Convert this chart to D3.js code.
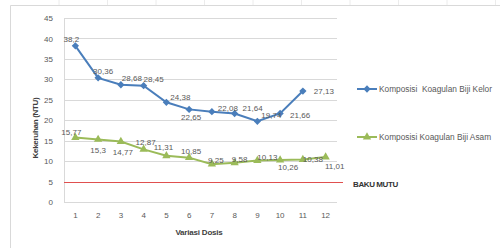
<!DOCTYPE html>
<html><head><meta charset="utf-8">
<script src="https://cdn.jsdelivr.net/npm/d3@7"></script>
<style>body{margin:0;background:#fff;}svg{display:block;font-family:"Liberation Sans",Arial,sans-serif;}</style>
</head><body>
<script>
const categories = ["1","2","3","4","5","6","7","8","9","10","11","12"];
const kelorName = "Komposisi  Koagulan Biji Kelor";
const asamName = "Komposisi Koagulan Biji Asam";
const kelorValues = [38.2, 30.36, 28.68, 28.45, 24.38, 22.65, 22.08, 21.64, 19.74, 21.66, 27.13];
const asamValues = [15.77, 15.3, 14.77, 12.87, 11.31, 10.85, 9.25, 9.58, 10.13, 10.26, 10.38, 11.01];
const bakuMutu = 5;
const yTicks = [0,5,10,15,20,25,30,35,40,45];
// label offsets (px) relative to marker
const kelorLabelOff = [[-4,-6],[5,-6],[11,-6],[10,-6],[14,-5],[2,8],[16,-3],[18,-5],[14,-6],[20,2],[21,0]];
const asamLabelOff = [[-4,-5],[0,11],[2,11],[2,-7],[-3,-8],[2,-6],[4,-4],[5,-3],[10,-3],[8,7],[10,0],[9,10]];

const W=500,H=248;
const FONT="'Liberation Sans',Arial,sans-serif";
const svg=d3.select("body").append("svg").attr("width",W).attr("height",H);
const L=64,R=337,T=18,B=202;
const x=d3.scaleBand().domain(categories).range([L,R]);
const cx=i=>x(categories[i])+x.bandwidth()/2;
const y=d3.scaleLinear().domain([0,45]).range([B,T]);
const fmt=v=>String(v).replace(".",",");

// outer frame
svg.append("path").attr("d",`M10.5,${H}V5.5H${W}`).attr("fill","none").attr("stroke","#d9d9d9");
for(let t=59;t<W;t+=48.5){svg.append("line").attr("x1",t).attr("x2",t).attr("y1",0).attr("y2",5).attr("stroke","#ececec");}

// gridlines
svg.append("g").selectAll("line").data(yTicks).join("line")
 .attr("x1",L).attr("x2",R).attr("y1",d=>Math.round(y(d))+0.5).attr("y2",d=>Math.round(y(d))+0.5)
 .attr("stroke","#d9d9d9");
svg.append("line").attr("x1",L+0.5).attr("x2",L+0.5).attr("y1",T).attr("y2",B).attr("stroke","#d9d9d9");

// axes labels
const yAxis=d3.axisLeft(y).tickValues(yTicks).tickSize(0).tickPadding(0);
const gy=svg.append("g").attr("transform",`translate(53,0)`).call(yAxis);
gy.select(".domain").remove();
gy.selectAll("text").attr("fill","#595959").attr("font-size",8).attr("font-family",FONT);
const xAxis=d3.axisBottom(x).tickSize(0).tickPadding(0);
const gx=svg.append("g").attr("transform",`translate(0,212)`).call(xAxis);
gx.select(".domain").remove();
gx.selectAll("text").attr("fill","#595959").attr("font-size",8).attr("font-family",FONT);

// baku mutu line
svg.append("line").attr("x1",L).attr("x2",343).attr("y1",Math.round(y(bakuMutu))+0.5).attr("y2",Math.round(y(bakuMutu))+0.5).attr("stroke","#e0504f").attr("stroke-width",1.2);
svg.append("text").attr("x",353).attr("y",187).attr("font-size",8).attr("font-family",FONT).attr("fill","#333").attr("font-weight","bold").attr("letter-spacing",-0.4).text("BAKU MUTU");

const blue="#4a7ebb", green="#9bbb59";
const line=d3.line().x((d,i)=>cx(i)).y(d=>y(d));
svg.append("path").datum(asamValues).attr("d",line).attr("fill","none").attr("stroke",green).attr("stroke-width",2);
svg.append("path").datum(kelorValues).attr("d",line).attr("fill","none").attr("stroke",blue).attr("stroke-width",2);
const diamond=d3.symbol().type(d3.symbolDiamond2 || d3.symbolDiamond).size(34);
const tri=d3.symbol().type(d3.symbolTriangle).size(30);
svg.append("g").selectAll("path").data(kelorValues).join("path").attr("d",diamond)
 .attr("transform",(d,i)=>`translate(${cx(i)},${y(d)})`).attr("fill",blue);
svg.append("g").selectAll("path").data(asamValues).join("path").attr("d",tri)
 .attr("transform",(d,i)=>`translate(${cx(i)},${y(d)})`).attr("fill",green);

// data labels
function labels(vals,off){
 svg.append("g").selectAll("text").data(vals).join("text")
  .attr("x",(d,i)=>cx(i)+off[i][0]).attr("y",(d,i)=>y(d)+off[i][1])
  .attr("text-anchor","middle").attr("dominant-baseline","central")
  .attr("font-size",8).attr("fill","#595959").attr("font-family",FONT)
  .text(d=>fmt(d));
}
labels(kelorValues,kelorLabelOff);
labels(asamValues,asamLabelOff);

// legend
const leg=[{n:kelorName,c:blue,s:diamond,y:89},{n:asamName,c:green,s:tri,y:137}];
leg.forEach(l=>{
 svg.append("line").attr("x1",357).attr("x2",377).attr("y1",l.y).attr("y2",l.y).attr("stroke",l.c).attr("stroke-width",2);
 svg.append("path").attr("d",l.s).attr("transform",`translate(367,${l.y})`).attr("fill",l.c);
 svg.append("text").attr("x",379).attr("y",l.y).attr("dominant-baseline","central").attr("font-size",8.3)
  .attr("fill","#595959").attr("font-family",FONT).style("white-space","pre").text(l.n);
});

// axis titles
svg.append("text").attr("x",199).attr("y",235).attr("text-anchor","middle").attr("font-size",8).attr("font-weight","bold")
 .attr("fill","#404040").attr("font-family",FONT).attr("letter-spacing",-0.2).text("Variasi Dosis");
svg.append("text").attr("transform","translate(38,128) rotate(-90)").attr("text-anchor","middle").attr("font-size",8).attr("font-weight","bold")
 .attr("fill","#404040").attr("font-family",FONT).attr("letter-spacing",-0.3).text("Kekeruhan (NTU)");
</script>
</body></html>
